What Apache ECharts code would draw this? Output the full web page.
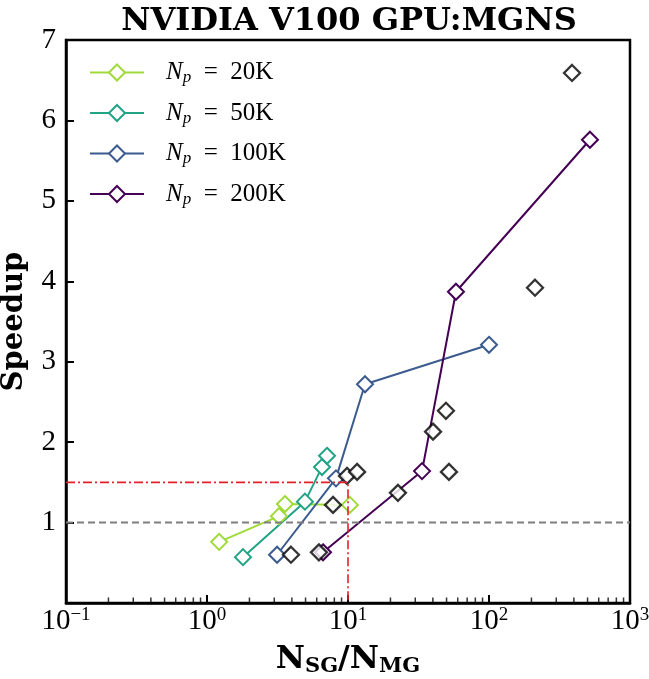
<!DOCTYPE html>
<html>
<head>
<meta charset="utf-8">
<script src="https://cdn.jsdelivr.net/npm/echarts@6/dist/echarts.min.js"></script>
<style>
  html, body { margin: 0; padding: 0; background: #fff; }
  #chart { width: 649px; height: 679px; }
</style>
</head>
<body>
<div id="chart"></div>
<script>
// Speedup of the multigrid solver versus the ratio of single-grid to multigrid cost
const seriesNames = ['20K', '50K', '100K', '200K'];
const seriesColors = ['#a0da39', '#21a386', '#3b5b8f', '#440154'];

const x20K = [1.22, 3.24, 3.57, 10.3];
const y20K = [0.76, 1.08, 1.23, 1.22];
const x50K = [1.80, 4.95, 6.54, 7.10];
const y50K = [0.57, 1.26, 1.69, 1.83];
const x100K = [3.14, 8.22, 13.2, 100];
const y100K = [0.60, 1.55, 2.72, 3.21];
const x200K = [6.65, 33.5, 58.3, 520];
const y200K = [0.63, 1.64, 3.87, 5.76];

// Unconnected reference runs (black diamonds)
const xOther = [3.94, 6.22, 7.83, 9.84, 11.6, 22.6, 40.1, 49.5, 52.0, 212, 388];
const yOther = [0.60, 0.63, 1.22, 1.58, 1.63, 1.37, 2.13, 2.39, 1.63, 3.92, 6.59];

// Guide lines: speedup = 1 and the 1.5x / ratio 10 threshold
const unityX = [0.1, 1000];
const unityY = [1, 1];
const thresholdX = [0.1, 10, 10];
const thresholdY = [1.5, 1.5, 0];

// Minor ticks on the log axis (2..9 within each decade)
const minorTicks = [];
[0.1, 1, 10, 100].forEach(d => { for (let k = 2; k <= 9; k++) minorTicks.push(+(d * k).toPrecision(3)); });

const serif = "'Liberation Serif', 'Times New Roman', serif";
const boldSerif = "'DejaVu Serif', serif";

const zip = (xs, ys) => xs.map((x, i) => [x, ys[i]]);
const xs = [x20K, x50K, x100K, x200K];
const ys = [y20K, y50K, y100K, y200K];

const mainSeries = seriesNames.map((n, i) => ({
  name: n,
  type: 'line',
  data: zip(xs[i], ys[i]),
  symbol: 'diamond',
  symbolSize: 16,
  showSymbol: true,
  z: 3,
  lineStyle: { color: seriesColors[i], width: 2 },
  itemStyle: { color: '#ffffff', borderColor: seriesColors[i], borderWidth: 2 },
  emphasis: { disabled: true }
}));

const option = {
  animation: false,
  title: {
    text: 'NVIDIA V100 GPU:MGNS',
    left: 349,
    top: 6,
    textAlign: 'center',
    padding: 0,
    textStyle: { fontFamily: boldSerif, fontWeight: 'bold', fontSize: 32, color: '#000' }
  },
  grid: {
    left: 66, right: 19, top: 40, bottom: 76,
    containLabel: false,
    outerBoundsMode: 'none',
    show: true, borderColor: '#000', borderWidth: 2.5, backgroundColor: 'transparent'
  },
  legend: {
    orient: 'vertical',
    left: 89,
    top: 60,
    padding: 0,
    itemGap: 14,
    itemWidth: 54,
    itemHeight: 20,
    data: seriesNames,
    formatter: n => '{n|N}{p|p}{t|  =  ' + n + '}',
    textStyle: {
      color: '#000',
      padding: [0, 0, 0, 17],
      rich: {
        n: { fontFamily: serif, fontStyle: 'italic', fontSize: 25, lineHeight: 28, color: '#000' },
        p: { fontFamily: serif, fontStyle: 'italic', fontSize: 17, lineHeight: 14, verticalAlign: 'bottom', color: '#000' },
        t: { fontFamily: serif, fontSize: 25, lineHeight: 28, color: '#000' }
      }
    }
  },
  xAxis: {
    type: 'log',
    logBase: 10,
    min: 0.1,
    max: 1000,
    name: '{b|N}{s|SG}{b|/N}{s|MG}',
    nameLocation: 'middle',
    nameGap: 40,
    nameTextStyle: {
      rich: {
        b: { fontFamily: boldSerif, fontWeight: 'bold', fontSize: 32, lineHeight: 34, color: '#000' },
        s: { fontFamily: boldSerif, fontWeight: 'bold', fontSize: 21, lineHeight: 15, verticalAlign: 'bottom', color: '#000' }
      }
    },
    axisLine: { show: true, onZero: false, lineStyle: { color: '#000', width: 2.5 } },
    axisTick: { show: true, inside: true, length: 8, lineStyle: { color: '#000', width: 2 } },
    splitLine: { show: false },
    axisLabel: {
      margin: 3,
      showMinLabel: true,
      showMaxLabel: true,
      formatter: v => {
        const e = Math.round(Math.log10(v));
        return '{m|10}{e|' + (e < 0 ? '\u2212' + (-e) : e) + '}';
      },
      rich: {
        m: { fontFamily: serif, fontSize: 29, lineHeight: 30, color: '#000' },
        e: { fontFamily: serif, fontSize: 19, lineHeight: 16, verticalAlign: 'top', color: '#000' }
      }
    }
  },
  yAxis: {
    type: 'value',
    min: 0,
    max: 7,
    interval: 1,
    name: 'Speedup',
    nameLocation: 'middle',
    nameGap: 37,
    nameTextStyle: { fontFamily: boldSerif, fontWeight: 'bold', fontSize: 29, color: '#000' },
    axisLine: { show: true, onZero: false, lineStyle: { color: '#000', width: 2.5 } },
    axisTick: { show: true, inside: true, length: 8, lineStyle: { color: '#000', width: 2 } },
    splitLine: { show: false },
    axisLabel: {
      margin: 10,
      fontFamily: serif,
      fontSize: 29,
      color: '#000',
      formatter: v => (v === 0 ? '' : String(v))
    }
  },
  series: [
    ...mainSeries,
    {
      name: 'other',
      type: 'scatter',
      data: zip(xOther, yOther),
      symbol: 'diamond',
      symbolSize: 16,
      z: 4,
      itemStyle: { color: '#ffffff', borderColor: '#000', borderWidth: 2.3 },
      emphasis: { disabled: true }
    },
    {
      name: 'unity',
      type: 'line',
      data: zip(unityX, unityY),
      symbol: 'none',
      z: 5,
      lineStyle: { color: '#7f7f7f', width: 2, type: [7, 4] },
      emphasis: { disabled: true },
      silent: true
    },
    {
      name: 'threshold',
      type: 'line',
      data: zip(thresholdX, thresholdY),
      symbol: 'none',
      z: 5,
      lineStyle: { color: '#e3202a', width: 1.6, type: [9, 3, 2, 3] },
      emphasis: { disabled: true },
      silent: true
    },
    {
      name: 'minorTicks',
      type: 'scatter',
      silent: true,
      clip: false,
      z: 6,
      data: minorTicks.map(v => [v, 0]),
      symbol: 'rect',
      symbolSize: [1.5, 5],
      symbolOffset: [0, -3],
      itemStyle: { color: '#000' },
      emphasis: { disabled: true }
    }
  ]
};

const chart = echarts.init(document.getElementById('chart'), null, { renderer: 'canvas' });
chart.setOption(option);
</script>
</body>
</html>
